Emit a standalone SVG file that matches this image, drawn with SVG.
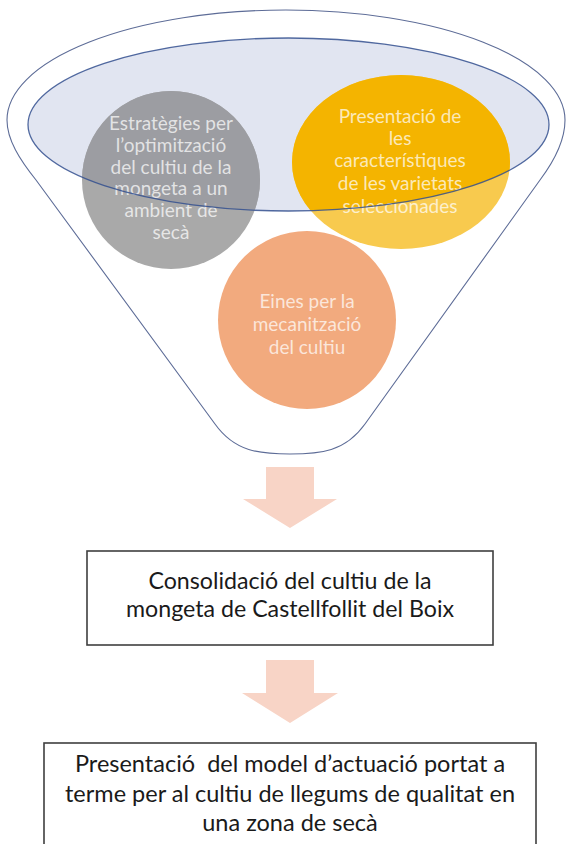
<svg xmlns="http://www.w3.org/2000/svg" width="566" height="844" viewBox="0 0 566 844">
<style>
.ct{font-family:Lato,"Open Sans","Liberation Sans",sans-serif;font-size:19px;text-anchor:middle;fill:#ffffff;fill-opacity:0.72}
.bt{font-family:Lato,"Open Sans","Liberation Sans",sans-serif;text-anchor:middle;fill:#1a1a1a}
.box{fill:#ffffff;stroke:#3f3f3f;stroke-width:1.6}
.arrow{fill:#f8d4c6}
</style>
<defs>
<clipPath id="rim"><ellipse cx="288.5" cy="124.5" rx="260.5" ry="86.5"/></clipPath>
</defs>
<rect width="566" height="844" fill="#ffffff"/>
<g id="funnel">
<path d="M 7 120 A 279 110 0 0 1 565 120 C 565 140 555 160 540 180 L 365 424 C 345 452 320 454 290 454 C 260 454 235 452 215 424 L 36 180 C 20 160 7 140 7 120 Z" fill="#ffffff" stroke="#5d6c97" stroke-width="1.1"/>
<ellipse cx="288.5" cy="124.5" rx="260.5" ry="86.5" fill="#e1e5f1"/>
</g>
<g id="node-strategies">
<circle cx="171" cy="180" r="89" fill="#a9a9a9"/>
<circle cx="171" cy="180" r="89" fill="#9c9da2" clip-path="url(#rim)"/>
</g>
<g id="node-varieties">
<ellipse cx="401" cy="162" rx="109" ry="87" fill="#f8ca4e"/>
<ellipse cx="401" cy="162" rx="109" ry="87" fill="#f4b400" clip-path="url(#rim)"/>
</g>
<g id="node-tools">
<circle cx="307" cy="320" r="89" fill="#f2aa7e"/>
</g>
<g id="texts">
<text class="ct"><tspan x="171" y="130">Estratègies per</tspan><tspan x="171" y="152">l’optimització</tspan><tspan x="171" y="174">del cultiu de la</tspan><tspan x="171" y="195">mongeta a un</tspan><tspan x="171" y="217">ambient de</tspan><tspan x="171" y="239">secà</tspan></text>
<text class="ct"><tspan x="400" y="123">Presentació de</tspan><tspan x="400" y="145">les</tspan><tspan x="400" y="167">característiques</tspan><tspan x="400" y="190">de les varietats</tspan><tspan x="400" y="213">seleccionades</tspan></text>
<text class="ct"><tspan x="307" y="308">Eines per la</tspan><tspan x="307" y="331">mecanització</tspan><tspan x="307" y="354">del cultiu</tspan></text>
</g>
<ellipse cx="288.5" cy="124.5" rx="260.5" ry="86.5" fill="none" stroke="#34508f" stroke-width="1.3" stroke-opacity="0.85"/>
<g id="connectors">
<path class="arrow" d="M 266 467 H 314 V 499 H 337 L 290 528 L 243 499 H 266 Z"/>
<path class="arrow" d="M 266 660 H 314 V 693 H 338 L 290 723 L 242 693 H 266 Z"/>
</g>
<g id="box-consolidation">
<rect class="box" x="87" y="551" width="406" height="94"/>
<text class="bt" font-size="23.2"><tspan x="290" y="589">Consolidació del cultiu de la</tspan><tspan x="290" y="617">mongeta de Castellfollit del Boix</tspan></text>
</g>
<g id="box-model">
<rect class="box" x="44" y="743" width="492" height="120"/>
<text class="bt" font-size="23.5"><tspan x="290" y="772">Presentació&#160; del model d’actuació portat a</tspan><tspan x="290" y="802">terme per al cultiu de llegums de qualitat en</tspan><tspan x="290" y="831">una zona de secà</tspan></text>
</g>
</svg>
